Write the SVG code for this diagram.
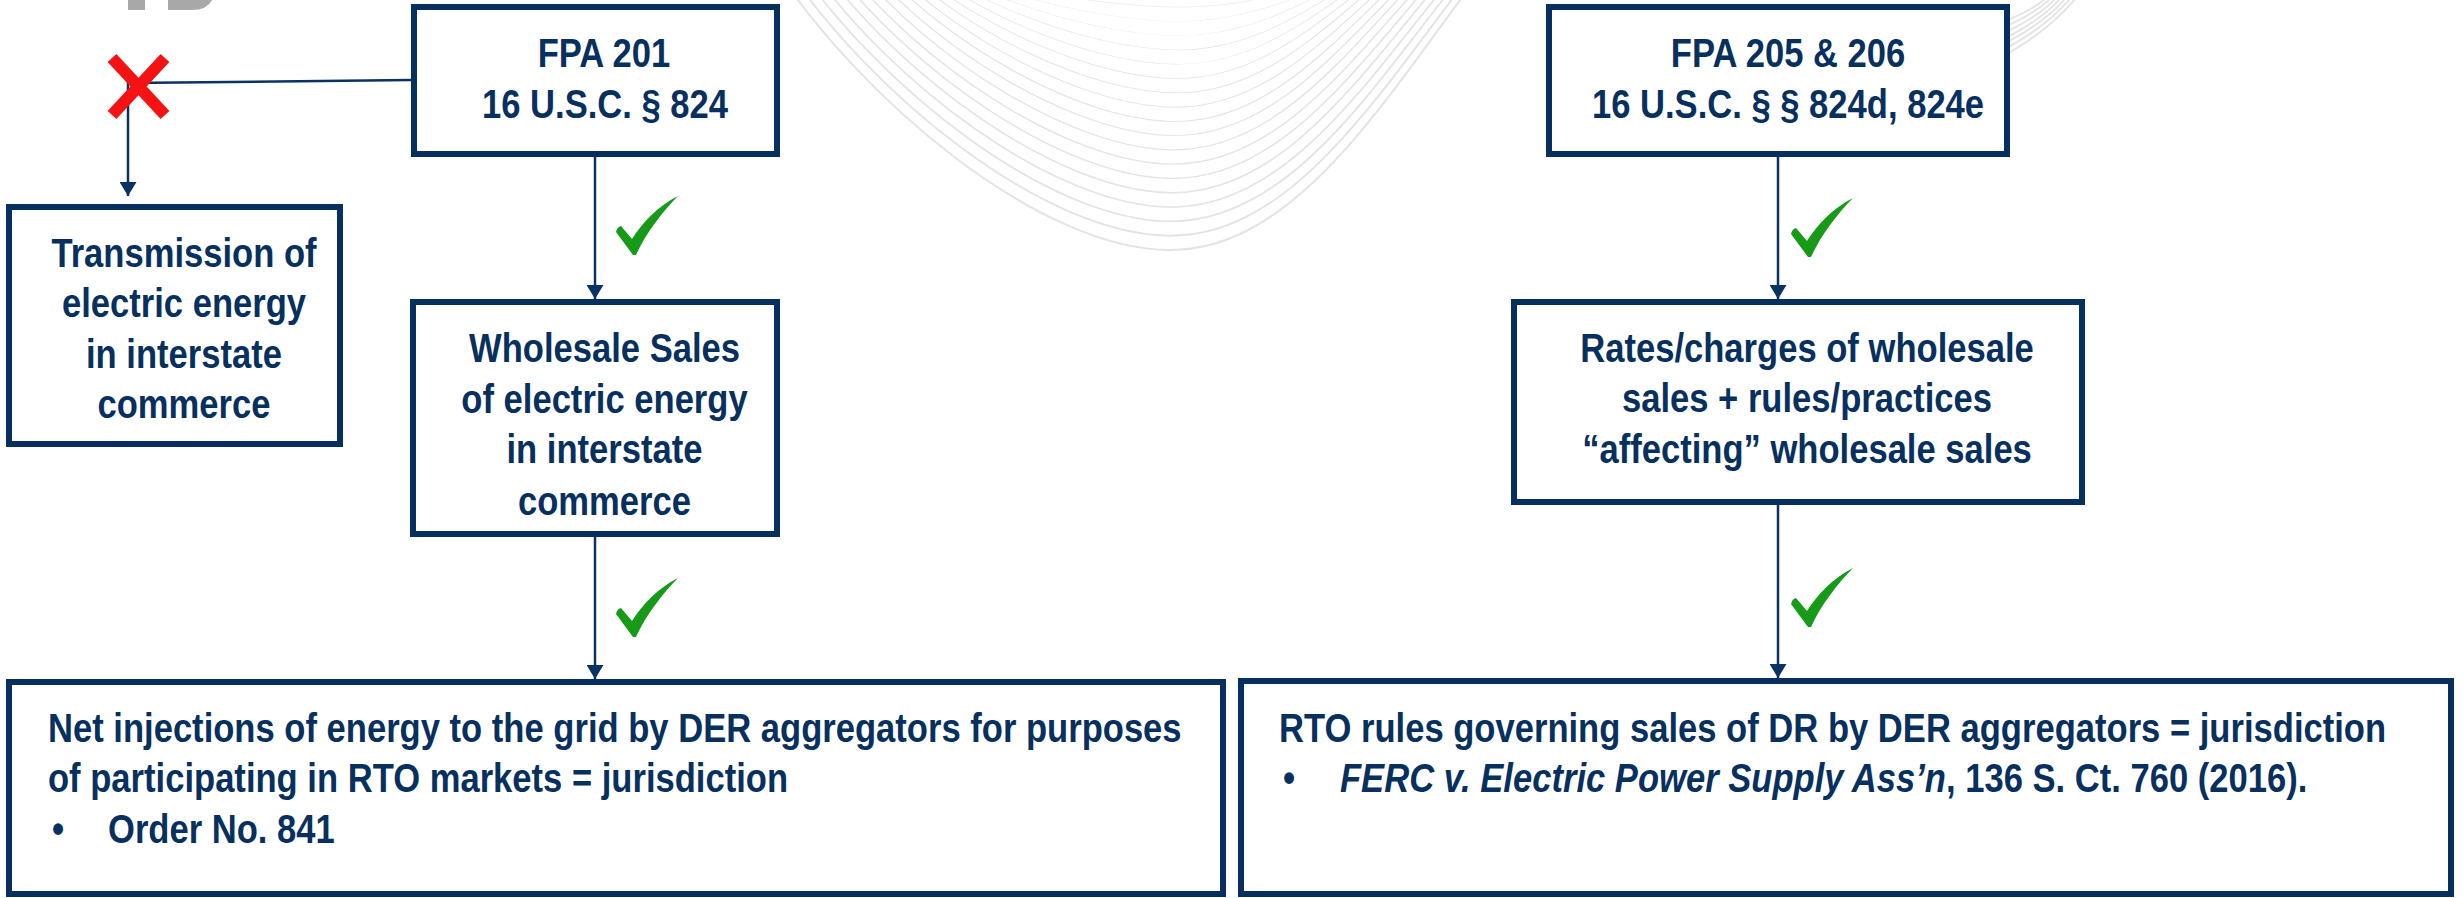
<svg xmlns="http://www.w3.org/2000/svg" width="2463" height="898" viewBox="0 0 2463 898">
<defs>
<style>
.box{fill:#fff;stroke:#07305f;stroke-width:6}
.t{font-family:"Liberation Sans",Arial,sans-serif;font-weight:bold;font-size:40px;fill:#07305f}
.c{text-anchor:middle}
.conn{fill:none;stroke:#0a3263;stroke-width:2.5}
.wave{fill:none;stroke:#e4e4e4;stroke-width:2;vector-effect:non-scaling-stroke}
.chk{fill:#179a17}
.x{stroke:#f51212;stroke-width:12;stroke-linecap:butt}
.logo{fill:#a8a8a8}
</style>
<marker id="arr" markerUnits="userSpaceOnUse" markerWidth="14" markerHeight="17" viewBox="0 0 14 17" refX="14" refY="8.5" orient="auto"><path d="M0,0 L14,8.5 L0,17 Z" fill="#0a3263"/></marker>
<path id="wv" d="M-420,-20 C-330,120 -150,270 -20,270 C110,270 200,110 300,-20"/>
<path id="ck" d="M0,36 Q1,31 5,30 L16,43 C26,27 42,10 62,0 C47,15 30,37 20,59 L17,59 Z"/>
</defs>
<rect width="2463" height="898" fill="#fff"/>
<g id="background">
<g class="wave">
<use href="#wv" transform="translate(1190,-20) scale(0.5,0.1)"/>
<use href="#wv" transform="translate(1190,-20) scale(0.529,0.153)"/>
<use href="#wv" transform="translate(1190,-20) scale(0.559,0.206)"/>
<use href="#wv" transform="translate(1190,-20) scale(0.588,0.259)"/>
<use href="#wv" transform="translate(1190,-20) scale(0.618,0.312)"/>
<use href="#wv" transform="translate(1190,-20) scale(0.647,0.365)"/>
<use href="#wv" transform="translate(1190,-20) scale(0.676,0.418)"/>
<use href="#wv" transform="translate(1190,-20) scale(0.706,0.471)"/>
<use href="#wv" transform="translate(1190,-20) scale(0.735,0.524)"/>
<use href="#wv" transform="translate(1190,-20) scale(0.765,0.576)"/>
<use href="#wv" transform="translate(1190,-20) scale(0.794,0.629)"/>
<use href="#wv" transform="translate(1190,-20) scale(0.824,0.682)"/>
<use href="#wv" transform="translate(1190,-20) scale(0.853,0.735)"/>
<use href="#wv" transform="translate(1190,-20) scale(0.882,0.788)"/>
<use href="#wv" transform="translate(1190,-20) scale(0.912,0.841)"/>
<use href="#wv" transform="translate(1190,-20) scale(0.941,0.894)"/>
<use href="#wv" transform="translate(1190,-20) scale(0.971,0.947)"/>
<use href="#wv" transform="translate(1190,-20) scale(1,1)"/>
<path d="M1995,60 Q2045,35 2075,-1"/>
<path d="M1995,54 Q2042,31 2070,-1"/>
<path d="M1995,48 Q2040,27 2065,-1"/>
<path d="M1995,43 Q2037,24 2060,-1"/>
<path d="M1995,37 Q2035,20 2055,-1"/>
<path d="M1995,31 Q2032,16 2050,-1"/>
<path d="M1995,25 Q2030,12 2045,-1"/>
</g>
<rect class="logo" x="128" y="0" width="17" height="10"/>
<path class="logo" d="M168,0 H212 Q207,10 192,10 H168 Z"/>
</g>
<g id="connectors">
<path class="conn" d="M595,157 V299" marker-end="url(#arr)"/>
<path class="conn" d="M595,537 V679" marker-end="url(#arr)"/>
<path class="conn" d="M1778,157 V299" marker-end="url(#arr)"/>
<path class="conn" d="M1778,505 V678" marker-end="url(#arr)"/>
<path class="conn" d="M411,80 L128,83 V196" marker-end="url(#arr)"/>
<g id="marks">
<line class="x" x1="112" y1="58" x2="165" y2="115"/>
<line class="x" x1="165" y1="58" x2="112" y2="115"/>
<use href="#ck" class="chk" transform="translate(616,196)"/>
<use href="#ck" class="chk" transform="translate(1791,198)"/>
<use href="#ck" class="chk" transform="translate(616,578)"/>
<use href="#ck" class="chk" transform="translate(1791,568)"/>
</g>
</g>
<g id="fpa201">
<rect class="box" x="414" y="7" width="363" height="147"/>
<text class="t c" transform="translate(604,67) scale(0.865,1)">FPA 201</text>
<text class="t c" transform="translate(605,118) scale(0.865,1)">16 U.S.C. § 824</text>
</g>
<g id="fpa205">
<rect class="box" x="1549" y="7" width="458" height="147"/>
<text class="t c" transform="translate(1788,67) scale(0.865,1)">FPA 205 &amp; 206</text>
<text class="t c" transform="translate(1788,118) scale(0.865,1)">16 U.S.C. § § 824d, 824e</text>
</g>
<g id="transmission">
<rect class="box" x="9" y="207" width="331" height="237"/>
<text class="t c" transform="translate(184,267) scale(0.865,1)">Transmission of</text>
<text class="t c" transform="translate(184,317) scale(0.865,1)">electric energy</text>
<text class="t c" transform="translate(184,368) scale(0.865,1)">in interstate</text>
<text class="t c" transform="translate(184,418) scale(0.865,1)">commerce</text>
</g>
<g id="wholesale">
<rect class="box" x="413" y="302" width="364" height="232"/>
<text class="t c" transform="translate(604.5,362) scale(0.865,1)">Wholesale Sales</text>
<text class="t c" transform="translate(604.5,413) scale(0.865,1)">of electric energy</text>
<text class="t c" transform="translate(604.5,463) scale(0.865,1)">in interstate</text>
<text class="t c" transform="translate(604.5,515) scale(0.865,1)">commerce</text>
</g>
<g id="rates">
<rect class="box" x="1514" y="302" width="568" height="200"/>
<text class="t c" transform="translate(1807,362) scale(0.865,1)">Rates/charges of wholesale</text>
<text class="t c" transform="translate(1807,412) scale(0.865,1)">sales + rules/practices</text>
<text class="t c" transform="translate(1807,463) scale(0.865,1)">“affecting” wholesale sales</text>
</g>
<g id="net-injections">
<rect class="box" x="9" y="682" width="1214" height="212"/>
<text class="t" transform="translate(48,742) scale(0.865,1)">Net injections of energy to the grid by DER aggregators for purposes</text>
<text class="t" transform="translate(48,792) scale(0.865,1)">of participating in RTO markets = jurisdiction</text>
<text class="t" transform="translate(52,843) scale(0.865,1)">•</text>
<text class="t" transform="translate(108,843) scale(0.865,1)">Order No. 841</text>
</g>
<g id="rto-rules">
<rect class="box" x="1241" y="681" width="1210" height="213"/>
<text class="t" transform="translate(1279,742) scale(0.865,1)">RTO rules governing sales of DR by DER aggregators = jurisdiction</text>
<text class="t" transform="translate(1283,792) scale(0.865,1)">•</text>
<text class="t" transform="translate(1340,792) scale(0.865,1)"><tspan font-style="italic">FERC v. Electric Power Supply Ass’n</tspan>, 136 S. Ct. 760 (2016).</text>
</g>
</svg>
